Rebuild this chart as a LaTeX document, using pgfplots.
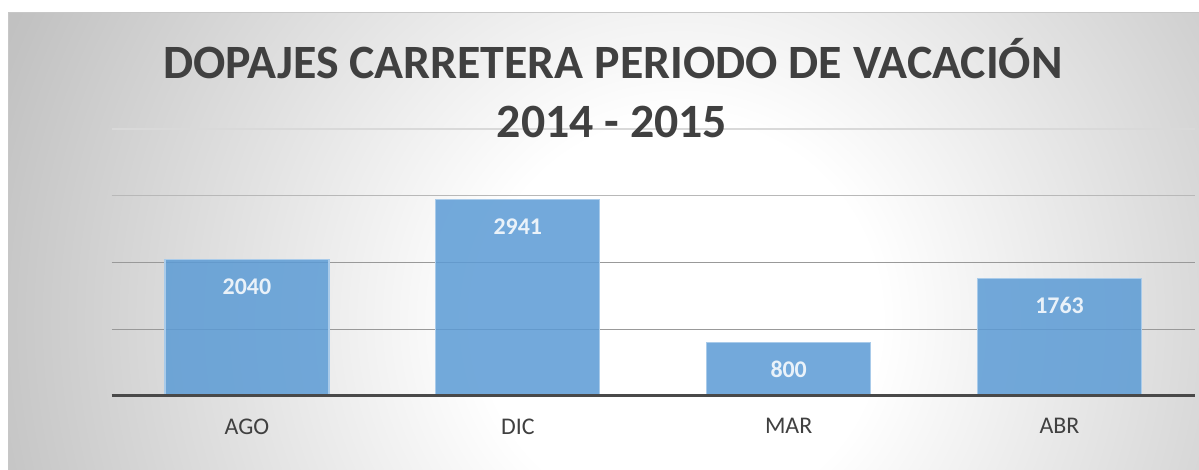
\documentclass[border=0pt]{standalone}
\usepackage{pgfplots}
\pgfplotsset{compat=1.18}
\usepackage{fontspec}
\setmainfont{Carlito}
\definecolor{titlec}{HTML}{404040}
\definecolor{barc}{HTML}{5B9BD5}
\definecolor{baredge}{HTML}{A9CBEA}
\pgfdeclareradialshading{bgshade}{\pgfpoint{0bp}{0bp}}{%
  color(0bp)=(white); color(5bp)=(white); color(18bp)=(black!24); color(25bp)=(black!30); color(50bp)=(black!30)}
\begin{document}
\begin{tikzpicture}[x=1bp,y=1bp]
\useasboundingbox (0,0) rectangle (1199,470);
\fill[white] (0,0) rectangle (1199,470);
\begin{scope}
\clip (8,0) rectangle (1199,457);
\shade[shading=bgshade] (680,150) circle (1000);
\end{scope}
\draw[black!22, line width=1bp] (8,-2) -- (8,457) -- (1201,457);
\begin{axis}[
  at={(111.5bp,74bp)}, anchor=south west,
  scale only axis, width=1083.5bp, height=267bp,
  xmin=-0.5, xmax=3.5, ymin=0, ymax=4000,
  clip=false,
  axis line style={draw=none},
  ytick=\empty,
  xtick={0,1,2,3},
  xticklabels={AGO,DIC,MAR,ABR},
  major tick length=0pt,
  x tick label style={font=\fontsize{24}{27}\selectfont, text=titlec, yshift=-19bp},
  ybar, bar width=164bp,
  nodes near coords,
  /pgf/number format/.cd, 1000 sep={}, assume math mode=true, /pgfplots/.cd,
  every node near coord/.append style={font=\fontsize{24}{27}\selectfont\bfseries, text=white, anchor=center, yshift=-27bp},
]
\draw[black!15, line width=1.2bp] (axis cs:-0.5,4000) -- (axis cs:3.5,4000);
\draw[black!28, line width=1.2bp] (axis cs:-0.5,3000) -- (axis cs:3.5,3000);
\draw[black!40, line width=1.4bp] (axis cs:-0.5,2000) -- (axis cs:3.5,2000);
\draw[black!40, line width=1.4bp] (axis cs:-0.5,1000) -- (axis cs:3.5,1000);
\addplot[fill=barc, fill opacity=0.85, draw=baredge, line width=1.2bp, bar shift=0pt]
  coordinates {(0,2040) (1,2941) (2,800) (3,1763)};
\draw[titlec!95, line width=3bp] (axis cs:-0.5,0) -- (axis cs:3.5,0);
\end{axis}
\node[font=\fontsize{48}{52}\selectfont\bfseries, text=titlec] at (613,411) {DOPAJES CARRETERA PERIODO DE VACACIÓN};
\node[font=\fontsize{48}{52}\selectfont\bfseries, text=titlec] at (612,348) {2014 - 2015};
\end{tikzpicture}
\end{document}
